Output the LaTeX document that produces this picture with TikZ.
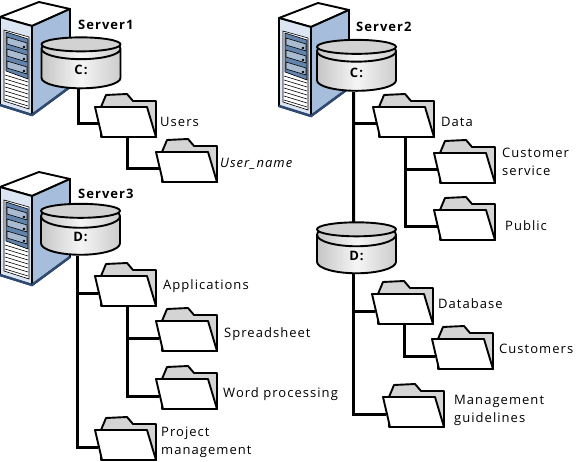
\documentclass[tikz,border=0pt]{standalone}
\usepackage{fontspec}
\setmainfont[LetterSpace=8]{Open Sans}
\usetikzlibrary{shapes.geometric}
\definecolor{capgray}{HTML}{D2D2D2}
\definecolor{backgray}{HTML}{D4D4D4}
\definecolor{sideblue}{HTML}{A6BEDB}
\definecolor{frontblue}{HTML}{DCE6F2}
\definecolor{panelblue}{HTML}{6283AB}
\definecolor{darkblue}{HTML}{2F4A70}
\newcommand{\drive}[1]{\raisebox{-6pt}[0pt][0pt]{#1}}
\tikzset{
  link/.style={line width=3pt},
  outline/.style={line width=1.9pt,line join=round},
  thin outline/.style={line width=.6pt},
  disk/.style={cylinder,shape border rotate=90,draw,line width=1.9pt,minimum width=79pt,minimum height=50pt,
    aspect=1.6,left color=gray!45,right color=gray!40,middle color=gray!8,inner sep=0pt,
    font=\fontsize{13}{15}\selectfont\bfseries},
  label/.style={anchor=west,inner sep=0pt,align=left,font=\fontsize{13}{18}\selectfont},
  head/.style={label,font=\fontsize{13}{18}\selectfont\bfseries},
  pics/folder/.style={code={
    \node[minimum width=61pt,minimum height=43pt,inner sep=0pt] (-box) at (30.5,21.5) {};
    \coordinate (-in) at (3,30);
    \coordinate (-out) at (32,43);
    \draw[outline,fill=backgray] (6,13) -- (11,1) -- (32,0) -- (38,7) -- (61,7) -- (61,43) -- (6,43) -- cycle;
    \draw[outline,fill=white] (0,13) -- (52,13) -- (61,43) -- (7,43) -- cycle;
  }},
  pics/tower/.style={code={
    \draw[outline,fill=white] (0,17) -- (39,2) -- (70,9) -- (32,26) -- cycle;
    \draw[outline,fill=sideblue] (32,26) -- (70,9) -- (70,87) -- (32,115) -- cycle;
    \draw[outline,fill=frontblue] (0,17) -- (32,26) -- (32,115) -- (0,105) -- cycle;
    \draw[line width=2.5pt,darkblue] (0,105) -- (32,115) -- (70,87);
    \draw[thin outline,fill=white] (4,30) -- (29,37) -- (29,109) -- (4,101) -- cycle;
    \draw[thin outline,fill=panelblue] (6,32) -- (28,39) -- (28,79) -- (6,71) -- cycle;
    \foreach \i in {0,1,2} {
      \draw[thin outline,fill=panelblue!55] (7,{37+\i*12}) -- (27,{43+\i*12}) -- (27,{50+\i*12}) -- (7,{44+\i*12}) -- cycle;
      \fill[black] (24,{47+\i*12}) circle (1.3);
    }
    \foreach \i in {0,...,6} {
      \draw[thin outline] (5,{75+\i*4}) -- (28,{82+\i*4});
    }
  }}
}
\begin{document}
\begin{tikzpicture}[x=1pt,y=-1pt]
    \useasboundingbox (0,0) rectangle (578,462);

    \pic at (0,0) {tower};
    \pic at (279,1) {tower};
    \pic at (0,170) {tower};

    \node[disk] (1c) at (81,69) {\drive{C:}};
    \node[disk] (2c) at (356.5,71.5) {\drive{C:}};
    \node[disk] (3d) at (80.5,236) {\drive{D:}};
    \node[disk] (2d) at (356.5,254.5) {\drive{D:}};
    \draw[outline,fill=capgray] ([yshift=-7pt]1c.north) ellipse (39.5 and 7);
    \draw[outline,fill=capgray] ([yshift=-7pt]2c.north) ellipse (39.5 and 7);
    \draw[outline,fill=capgray] ([yshift=-7pt]3d.north) ellipse (39.5 and 7);
    \draw[outline,fill=capgray] ([yshift=-7pt]2d.north) ellipse (39.5 and 7);

    \coordinate (1t) at ([xshift=-3pt]1c.south);
    \coordinate (2t) at ([xshift=-3pt]2c.south);
    \coordinate (3t) at ([xshift=-3pt]3d.south);
    \coordinate (4t) at ([xshift=-3pt]2d.south);
    \coordinate (4m) at ([xshift=-3pt]2d.north);

    \pic (users) at (95,94) {folder};
    \pic (uname) at (156,139) {folder};
    \pic (apps) at (95,263) {folder};
    \pic (sheet) at (156,308) {folder};
    \pic (word) at (156,366) {folder};
    \pic (proj) at (95,417) {folder};
    \pic (data) at (373,94) {folder};
    \pic (cust) at (434,140) {folder};
    \pic (pub) at (434,197) {folder};
    \pic (base) at (372,281) {folder};
    \pic (custs) at (432,326) {folder};
    \pic (guide) at (383,384) {folder};

    \path[draw,link] (1t) |- (users-in);
    \path[draw,link] (users-out) |- (uname-in);
    \path[draw,link] (3t) |- (apps-in);
    \path[draw,link] (3t) |- (proj-in);
    \path[draw,link] (apps-out) |- (sheet-in);
    \path[draw,link] (apps-out) |- (word-in);
    \path[draw,link] (2t) -- (4m);
    \path[draw,link] (2t) |- (data-in);
    \path[draw,link] (data-out) |- (cust-in);
    \path[draw,link] (data-out) |- (pub-in);
    \path[draw,link] (4t) |- (base-in);
    \path[draw,link] (4t) |- (guide-in);
    \path[draw,link] (base-out) |- (custs-in);

    \node[head] (s1) at (78,25) {Server1};
    \node[head] (s2) at (356,27) {Server2};
    \node[head] (s3) at (78,194) {Server3};

    \node[label] (l1) at (160,122) {Users};
    \node[label] (l2) at (220,164) {\itshape User\_name};
    \node[label] (l3) at (163,286) {Applications};
    \node[label] (l4) at (224,334) {Spreadsheet};
    \node[label] (l5) at (223,394) {Word processing};
    \node[label] (l6) at (161,442) {Project\\management};
    \node[label] (l7) at (441,122) {Data};
    \node[label] (l8) at (502,162) {Customer\\service};
    \node[label] (l9) at (505,226) {Public};
    \node[label] (l10) at (438,304) {Database};
    \node[label] (l11) at (499,349) {Customers};
    \node[label] (l12) at (454,410) {Management\\guidelines};
\end{tikzpicture}
\end{document}
